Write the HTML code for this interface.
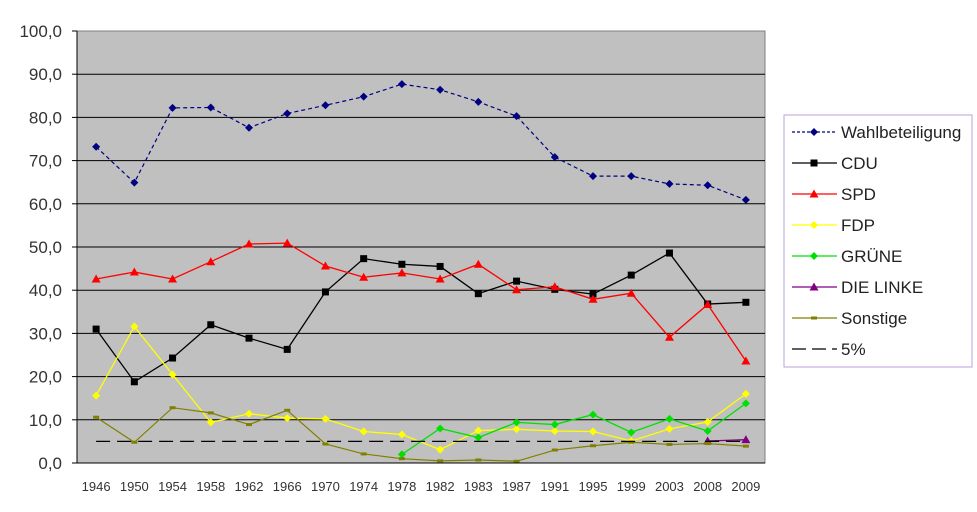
<!DOCTYPE html>
<html><head><meta charset="utf-8"><style>
body{margin:0;background:#fff;}
svg{display:block;font-family:"Liberation Sans",sans-serif;}
</style></head><body>
<svg id="c" width="977" height="512">
<rect x="77" y="31" width="688" height="432" fill="#c0c0c0" stroke="#808080"/>
<g id="grid"></g><g id="series"></g><g id="axes"></g>
<g id="legend">
<rect x="784" y="115" width="188" height="252" fill="#fff" stroke="#b9a0d8"/>
</g>
</svg>
<script>
const years=["1946","1950","1954","1958","1962","1966","1970","1974","1978","1982","1983","1987","1991","1995","1999","2003","2008","2009"];
const yTicks=[0,10,20,30,40,50,60,70,80,90,100];
const wahl=[73.2,64.9,82.2,82.3,77.6,80.9,82.8,84.8,87.7,86.4,83.6,80.3,70.8,66.4,66.4,64.6,64.3,60.9];
const cdu=[31.0,18.8,24.3,32.0,28.9,26.3,39.6,47.3,46.0,45.5,39.2,42.1,40.2,39.1,43.5,48.6,36.8,37.2];
const spd=[42.6,44.2,42.6,46.6,50.7,50.9,45.6,43.0,44.0,42.6,46.0,40.1,40.8,37.9,39.3,29.1,36.7,23.6];
const fdp=[15.6,31.6,20.5,9.4,11.4,10.4,10.2,7.3,6.6,3.1,7.5,7.8,7.4,7.3,5.1,7.9,9.5,16.0];
const gruene=[null,null,null,null,null,null,null,null,2.0,8.0,5.9,9.4,8.9,11.2,7.1,10.2,7.4,13.8];
const linke=[null,null,null,null,null,null,null,null,null,null,null,null,null,null,null,null,5.1,5.4];
const sonstige=[10.6,4.8,12.8,11.6,8.9,12.2,4.4,2.1,1.0,0.5,0.7,0.4,3.0,4.0,4.8,4.3,4.5,3.9];
const threshold=[5,5,5,5,5,5,5,5,5,5,5,5,5,5,5,5,5,5];
const NS="http://www.w3.org/2000/svg";
const L=77,T=31,W=688,H=432;
const x=i=>L+W/years.length*(i+0.5);
const y=v=>T+H-v/100*H;
function mk(t,a,p){const e=document.createElementNS(NS,t);for(const k in a)e.setAttribute(k,a[k]);p.appendChild(e);return e;}
const grid=document.getElementById('grid'),axes=document.getElementById('axes'),ser=document.getElementById('series'),leg=document.getElementById('legend');
yTicks.forEach(v=>{
 if(v>0&&v<100){const g=mk('line',{x1:L,x2:L+W,y1:y(v),y2:y(v),stroke:'#000','stroke-width':1},grid);
 
 }
 const t=mk('text',{x:62,y:y(v)+6,'text-anchor':'end','font-size':17,fill:'#333'},axes);t.textContent=v.toFixed(1).replace('.',',');
 
 
 mk('line',{x1:72,x2:L,y1:y(v),y2:y(v),stroke:'#000'},axes);
});
mk('line',{x1:L,x2:L,y1:T,y2:T+H,stroke:'#000'},axes);
mk('line',{x1:L,x2:L+W,y1:T+H,y2:T+H,stroke:'#000'},axes);
years.forEach((yr,i)=>{const t=mk('text',{x:x(i),y:491,'text-anchor':'middle','font-size':13,fill:'#333'},axes);t.textContent=yr;
 
 });
function marker(type,cx,cy,col,p){
 if(type==='diamond')return mk('path',{d:`M${cx} ${cy-4}L${cx+4} ${cy}L${cx} ${cy+4}L${cx-4} ${cy}Z`,fill:col},p);
 if(type==='square')return mk('rect',{x:cx-3.5,y:cy-3.5,width:7,height:7,fill:col},p);
 if(type==='triangle')return mk('path',{d:`M${cx} ${cy-4.5}L${cx+4.5} ${cy+3.5}L${cx-4.5} ${cy+3.5}Z`,fill:col},p);
 if(type==='dash')return mk('rect',{x:cx-3,y:cy-1.5,width:6,height:3,fill:col},p);
 return null;
}
const defs=[
 {n:'Wahlbeteiligung',d:wahl,c:'#000080',m:'diamond',dash:'4,3'},
 {n:'CDU',d:cdu,c:'#000000',m:'square'},
 {n:'SPD',d:spd,c:'#ff0000',m:'triangle'},
 {n:'FDP',d:fdp,c:'#ffff00',m:'diamond'},
 {n:'GRÜNE',d:gruene,c:'#00e000',m:'diamond'},
 {n:'DIE LINKE',d:linke,c:'#800080',m:'triangle'},
 {n:'Sonstige',d:sonstige,c:'#808000',m:'dash'},
 {n:'5%',d:threshold,c:'#000000',m:null,dash:'14,7'}
];
defs.forEach((s,k)=>{
 const g=mk('g',{},ser);
 
 
 let pts=[];s.d.forEach((v,i)=>{if(v!=null)pts.push([x(i),y(v)]);});
 const pl=mk('polyline',{points:pts.map(p=>p.join(',')).join(' '),fill:'none',stroke:s.c,'stroke-width':s.m==='dash'||s.dash?1.2:1.3},g);
 if(s.dash)pl.setAttribute('stroke-dasharray',s.dash);
 
 
 if(s.m)pts.forEach(p=>{const e=marker(s.m,p[0],p[1],s.c,g);
  
  });
 const ly=132+k*31;
 const le=mk('g',{},leg);
 
 
 const ll=mk('line',{x1:792,x2:837,y1:ly,y2:ly,stroke:s.c,'stroke-width':1.3},le);
 if(s.dash)ll.setAttribute('stroke-dasharray',s.n==='5%'?'14,6':'3,2');
 if(s.m)marker(s.m,814,ly,s.c,le);
 const t=mk('text',{x:841,y:ly+6,'font-size':17,fill:'#222'},le);t.textContent=s.n;
});
</script>
</body></html>
